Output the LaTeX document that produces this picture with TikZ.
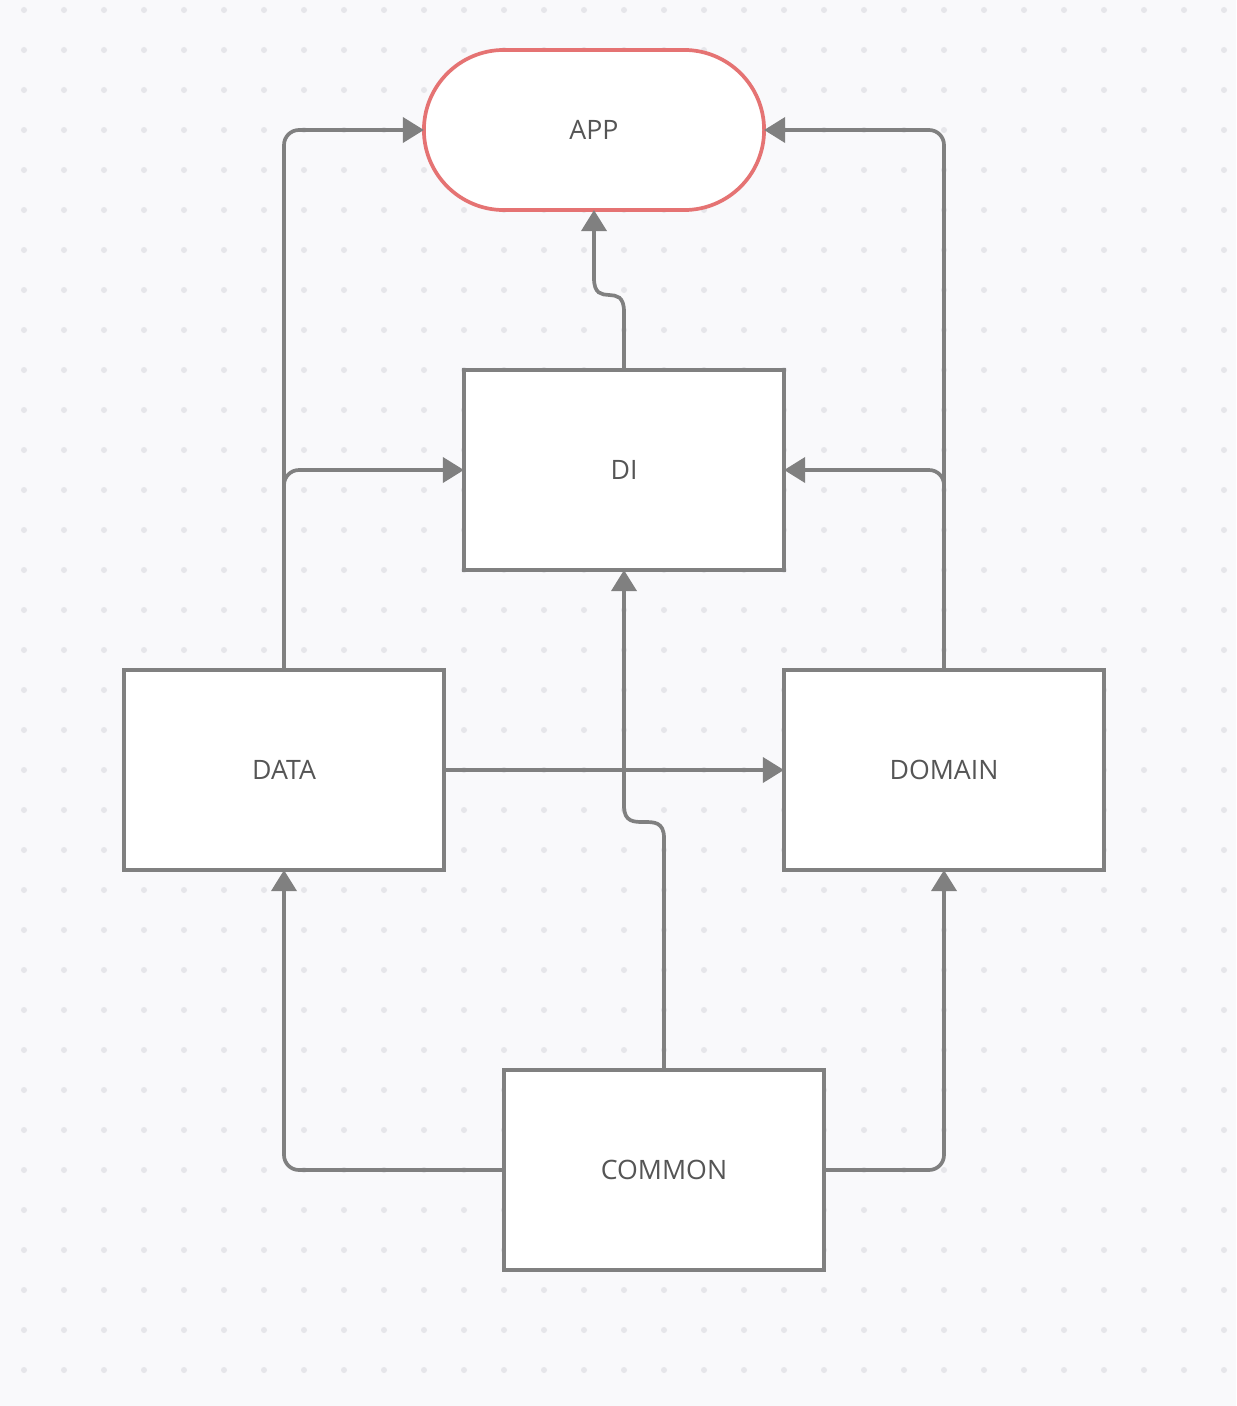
\documentclass[tikz,border=0pt]{standalone}
\usepackage{fontspec}
\setmainfont{Open Sans}
\usetikzlibrary{arrows.meta,calc,shapes.misc}
\definecolor{bgpaper}{HTML}{F9F9FB}
\definecolor{griddot}{HTML}{E6E6EA}
\definecolor{linegray}{HTML}{808080}
\definecolor{txtgray}{HTML}{555555}
\definecolor{appred}{HTML}{E57373}
\begin{document}
\begin{tikzpicture}[x=0.01cm, y=-0.01cm, >={Triangle[length=0.21cm,width=0.25cm]},
    module/.style={draw=linegray, line width=1.05pt, fill=white, minimum width=3.2cm,
      minimum height=2.0cm, inner sep=0pt, outer sep=0pt, font=\fontsize{7.6}{9}\selectfont, text=txtgray},
    link/.style={draw=linegray, line width=1.05pt, rounded corners=0.15cm, ->}]
    % background and dot grid
    \fill[bgpaper] (0,0) rectangle (1236,1406);
    \useasboundingbox (0,0) rectangle (1236,1406);
    \foreach \i in {0,...,30} {
      \foreach \j in {0,...,34} {
        \fill[griddot] ({24+40*\i},{10+40*\j}) circle (0.03cm);
      }
    }

    \node[module, rounded rectangle, draw=appred, minimum width=3.4cm, minimum height=1.6cm] (app) at (594,130) {APP};
    \node[module] (di) at (624,470) {DI};
    \node[module] (data) at (284,770) {DATA};
    \node[module] (domain) at (944,770) {DOMAIN};
    \node[module] (common) at (664,1170) {COMMON};

    \draw[link] (data.north) |- (app.west);
    \draw[link] (data.north) |- (di.west);
    \draw[link] (domain.north) |- (app.east);
    \draw[link] (domain.north) |- (di.east);
    \draw[link] (data.east) -- (domain.west);
    \draw[link] (common.west) -| (data.south);
    \draw[link] (common.east) -| (domain.south);
    % jogged links
    \draw[link, sharp corners] (di.north) -- ++(0,-58) .. controls +(0,-32) and +(0,32) .. ($(app.south)+(0,68)$) -- (app.south);
    \draw[link, sharp corners] (common.north) -- ++(0,-232) .. controls +(0,-32) and +(0,32) .. ($(di.south)+(0,236)$) -- (di.south);
  \end{tikzpicture}
\end{document}
